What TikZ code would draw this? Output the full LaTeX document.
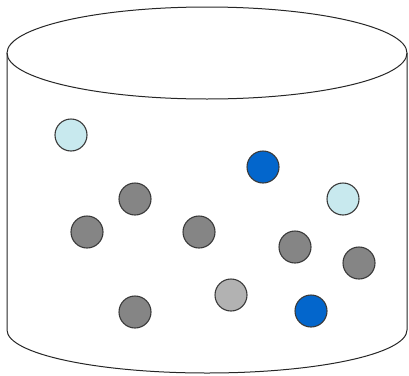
\documentclass[tikz,border=0pt]{standalone}
\definecolor{ltcyan}{HTML}{C8E9EE}
\definecolor{dkblue}{HTML}{0366CC}
\definecolor{midgray}{HTML}{858585}
\definecolor{ltgray}{HTML}{B2B2B2}
\definecolor{rim}{HTML}{3A3A3A}
\begin{document}
\begin{tikzpicture}[x=1pt,y=-1pt,
  ball/.style={circle,draw=rim,line width=1.1pt,minimum size=32pt,inner sep=0pt},
  outline/.style={draw=black!85,line width=1pt}]
\useasboundingbox (0,0) rectangle (409,375);
% cylinder
\draw[outline] (207,53) ellipse [x radius=200, y radius=46];
\draw[outline] (7,53) -- (7,330) arc [start angle=180, end angle=360, x radius=200, y radius=-43] -- (407,53);
% balls
\node[ball,fill=ltcyan] (c1) at (71,135) {};
\node[ball,fill=dkblue] (b1) at (263,167) {};
\node[ball,fill=ltcyan] (c2) at (343,199) {};
\node[ball,fill=midgray] (g1) at (135,199) {};
\node[ball,fill=midgray] (g2) at (87,232) {};
\node[ball,fill=midgray] (g3) at (199,232) {};
\node[ball,fill=midgray] (g4) at (295,247) {};
\node[ball,fill=midgray] (g5) at (359,263) {};
\node[ball,fill=ltgray] (l1) at (231,295) {};
\node[ball,fill=midgray] (g6) at (135,312) {};
\node[ball,fill=dkblue] (b2) at (311,311) {};
\end{tikzpicture}
\end{document}
